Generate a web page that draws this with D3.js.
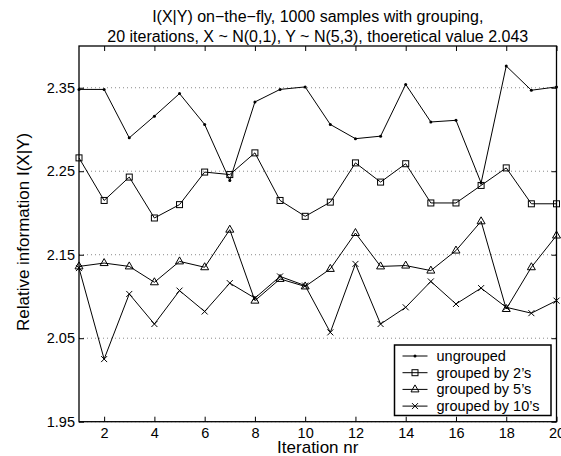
<!DOCTYPE html>
<html>
<head>
<meta charset="utf-8">
<script src="https://cdn.jsdelivr.net/npm/d3@7"></script>
<style>
  body { margin: 0; background: #fff; }
  text { font-family: "Liberation Sans", Arial, sans-serif; fill: #000; }
</style>
</head>
<body>
<svg id="chart" width="561" height="456"></svg>
<script>
const iterations = d3.range(1, 21);

const ungrouped = [2.348, 2.348, 2.290, 2.316, 2.343, 2.306, 2.239, 2.333, 2.348, 2.351,
                   2.306, 2.289, 2.292, 2.354, 2.309, 2.311, 2.236, 2.376, 2.347, 2.351];
const groupedBy2 = [2.266, 2.215, 2.243, 2.194, 2.210, 2.249, 2.246, 2.272, 2.215, 2.196,
                    2.213, 2.260, 2.237, 2.259, 2.212, 2.212, 2.233, 2.254, 2.211, 2.211];
const groupedBy5 = [2.136, 2.140, 2.136, 2.117, 2.142, 2.135, 2.180, 2.095, 2.121, 2.112,
                    2.133, 2.176, 2.136, 2.137, 2.131, 2.155, 2.190, 2.085, 2.135, 2.173];
const groupedBy10 = [2.134, 2.025, 2.103, 2.067, 2.107, 2.082, 2.116, 2.098, 2.124, 2.113,
                     2.057, 2.139, 2.067, 2.087, 2.118, 2.091, 2.110, 2.087, 2.080, 2.095];

const xTicks = [2, 4, 6, 8, 10, 12, 14, 16, 18, 20];
const yTicks = [1.95, 2.05, 2.15, 2.25, 2.35];
const titleLines = ["I(X|Y) on\u2212the\u2212fly, 1000 samples with grouping,",
                    "20 iterations, X ~ N(0,1), Y ~ N(5,3), thoeretical value 2.043"];

const series = [
  { name: "ungrouped", values: ungrouped, marker: "dot" },
  { name: "grouped by 2\u2019s", values: groupedBy2, marker: "square" },
  { name: "grouped by 5\u2019s", values: groupedBy5, marker: "triangle" },
  { name: "grouped by 10\u2019s", values: groupedBy10, marker: "cross" }
];

const svg = d3.select("#chart"),
      margin = { top: 46, right: 4.5, bottom: 34.3, left: 79 },
      width = +svg.attr("width") - margin.left - margin.right,
      height = +svg.attr("height") - margin.top - margin.bottom;

const g = svg.append("g").attr("transform", `translate(${margin.left},${margin.top})`);

const x = d3.scaleLinear().domain([1, 20]).range([0, width]);
const y = d3.scaleLinear().domain([1.95, 2.40]).range([height, 0]);

// dotted grid
g.selectAll(".grid").data(yTicks).enter().append("line")
  .attr("x1", 0).attr("x2", width)
  .attr("y1", d => y(d)).attr("y2", d => y(d))
  .attr("stroke", "#8a8a8a").attr("stroke-width", 1)
  .attr("stroke-dasharray", "1,3");

// axes (ticks inward, MATLAB style)
const styleAxis = sel => {
  sel.select(".domain").remove();
  sel.selectAll("line").attr("stroke", "#000");
  sel.selectAll("text").attr("font-size", "14.5px").attr("font-family", "Liberation Sans, Arial, sans-serif");
};

g.append("g").attr("transform", `translate(0,${height})`)
  .call(d3.axisBottom(x).tickValues(xTicks).tickSize(-5).tickPadding(6).tickFormat(d3.format("d")))
  .call(styleAxis);
g.append("g")
  .call(d3.axisTop(x).tickValues(xTicks).tickSize(-5).tickFormat(""))
  .call(styleAxis);
g.append("g")
  .call(d3.axisLeft(y).tickValues(yTicks).tickSize(-5).tickPadding(4).tickFormat(d3.format(".2f")))
  .call(styleAxis);
g.append("g").attr("transform", `translate(${width},0)`)
  .call(d3.axisRight(y).tickValues(yTicks).tickSize(-5).tickFormat(""))
  .call(styleAxis);

g.append("rect")
  .attr("width", width).attr("height", height)
  .attr("fill", "none").attr("stroke", "#000").attr("stroke-width", 1.3);

// markers
function drawMarker(sel, type) {
  if (type === "dot") {
    sel.append("circle").attr("r", 1.5).attr("fill", "#000");
  } else if (type === "square") {
    sel.append("rect").attr("x", -3).attr("y", -3).attr("width", 6).attr("height", 6)
      .attr("fill", "none").attr("stroke", "#000").attr("stroke-width", 1);
  } else if (type === "triangle") {
    sel.append("path").attr("d", "M0,-4.5L4,2.5L-4,2.5Z")
      .attr("fill", "none").attr("stroke", "#000").attr("stroke-width", 1);
  } else {
    sel.append("path").attr("d", "M-3,-3L3,3M-3,3L3,-3")
      .attr("stroke", "#000").attr("stroke-width", 1);
  }
}

const line = d3.line()
  .x((d, i) => x(iterations[i]))
  .y(d => y(d));

series.forEach(s => {
  g.append("path")
    .datum(s.values)
    .attr("fill", "none")
    .attr("stroke", "#000")
    .attr("stroke-width", 1)
    .attr("d", line);

  s.values.forEach((v, i) => {
    const m = g.append("g").attr("transform", `translate(${x(iterations[i])},${y(v)})`);
    drawMarker(m, s.marker);
  });
});

// legend
const legend = svg.append("g").attr("transform", "translate(394.5,345)");
legend.append("rect")
  .attr("width", 156.5).attr("height", 70.5)
  .attr("fill", "#fff").attr("stroke", "#000").attr("stroke-width", 1.5);

series.forEach((s, i) => {
  const row = legend.append("g").attr("transform", `translate(0,${11 + i * 16.7})`);
  row.append("line").attr("x1", 8).attr("x2", 33).attr("y1", 0).attr("y2", 0)
    .attr("stroke", "#000").attr("stroke-width", 1);
  drawMarker(row.append("g").attr("transform", "translate(20.5,0)"), s.marker);
  row.append("text").attr("x", 42).attr("y", 5)
    .attr("font-size", "14.5px")
    .text(s.name);
});

// title and axis labels
svg.selectAll(".title").data(titleLines).enter().append("text")
  .attr("x", margin.left + width / 2)
  .attr("y", (d, i) => 22 + i * 20)
  .attr("text-anchor", "middle")
  .attr("font-size", "16px")
  .text(d => d);

svg.append("text")
  .attr("x", margin.left + width / 2)
  .attr("y", 453)
  .attr("text-anchor", "middle")
  .attr("font-size", "17px")
  .text("Iteration nr");

svg.append("text")
  .attr("transform", "translate(28.5,232) rotate(-90)")
  .attr("text-anchor", "middle")
  .attr("font-size", "17px")
  .text("Relative information I(X|Y)");
</script>
</body>
</html>
